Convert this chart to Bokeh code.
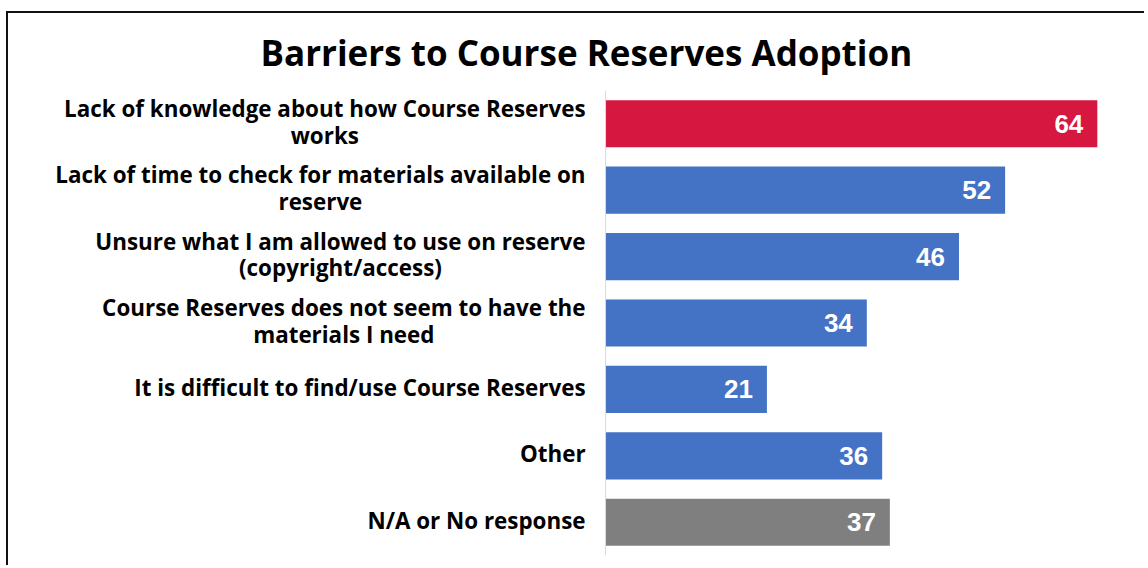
from bokeh.plotting import figure
from bokeh.models import ColumnDataSource, Span
from bokeh.embed import file_html
from bokeh.resources import INLINE
from bokeh.core.properties import value

categories = [
    "Lack of knowledge about how Course Reserves\nworks",
    "Lack of time to check for materials available on\nreserve",
    "Unsure what I am allowed to use on reserve\n(copyright/access)",
    "Course Reserves does not seem to have the\nmaterials I need",
    "It is difficult to find/use Course Reserves",
    "Other",
    "N/A or No response",
]
counts = [64, 52, 46, 34, 21, 36, 37]
colors = ["#D6173F", "#4472C4", "#4472C4", "#4472C4", "#4472C4", "#4472C4", "#7F7F7F"]
labels = [str(v) for v in counts]
zeros = [0] * len(counts)

src = ColumnDataSource(dict(cat=categories, val=counts, color=colors, lab=labels, zero=zeros))

p = figure(
    width=1138, height=554,
    y_range=list(reversed(categories)),
    x_range=(-77.7, 70.4),
    output_backend="svg", toolbar_location=None,
    min_border_left=0, min_border_right=0, min_border_bottom=12, min_border_top=76,
)
p.margin = (11, 0, 0, 6)
p.styles = {"border-top": "2px solid #111", "border-left": "2px solid #111"}

p.add_layout(Span(location=0, dimension="height", line_color="#D9D9D9", line_width=1))

p.hbar(y="cat", right="val", left="zero", height=0.71, color="color", line_color=None, source=src)
p.text(x="val", y="cat", text="lab", source=src, x_offset=-14,
       text_align="right", text_baseline="middle", text_color="white",
       text_font=value("Liberation Sans"), text_font_style="bold", text_font_size="26px")

p.text(x="zero", y="cat", text="cat", source=src, x_offset=-20, y_offset=-2,
       anchor="center_right", text_align="center", text_baseline="middle",
       text_color="#000000", text_font=value("Open Sans"), text_font_style="bold",
       text_font_size="22.4px", text_line_height=0.86)

p.title.text = "Barriers to Course Reserves Adoption"
p.title.align = "left"
p.title.offset = 252
p.title.vertical_align = "middle"
p.title.text_font = "Open Sans"
p.title.text_font_style = "bold"
p.title.text_font_size = "35px"
p.title.text_color = "#000000"
p.title.standoff = 28

p.xaxis.visible = False
p.yaxis.visible = False
p.xgrid.visible = False
p.ygrid.visible = False
p.outline_line_color = None
p.y_range.range_padding = 0

open("out.html", "w").write(file_html(p, INLINE))
